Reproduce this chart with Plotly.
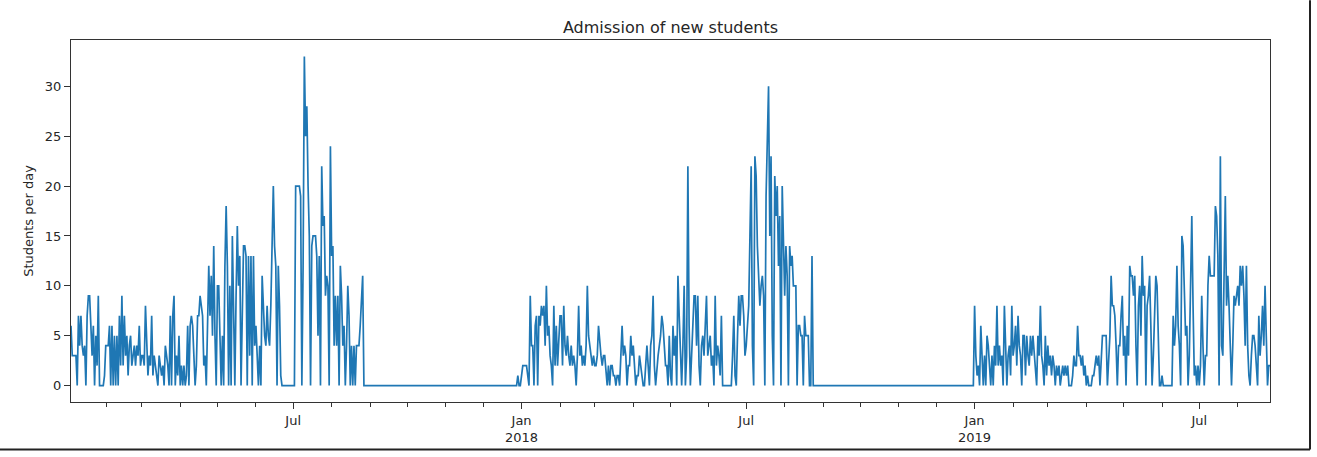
import pandas as pd
import plotly.graph_objects as go

# ---- data (daily admissions; each block starts on its date) ----
start_2017 = "2017-01-03"
values_2017 = [
    6, 3, 3, 3, 3, 0, 7, 4, 7, 4,
    3, 4, 0, 7, 9, 9, 6, 3, 6, 0,
    5, 2, 9, 0, 0, 0, 0, 1, 4, 4,
    4, 6, 0, 6, 0, 5, 0, 5, 0, 7,
    2, 9, 2, 7, 3, 5, 1, 4, 5, 2,
    3, 4, 2, 4, 3, 6, 2, 3, 3, 2,
    8, 3, 1, 3, 2, 7, 1, 3, 2, 1,
    0, 3, 2, 1, 2, 0, 4, 3, 2, 0,
    7, 0, 7, 9, 0, 3, 1, 5, 0, 2,
    0, 2, 0, 1, 6, 0, 6, 7, 6, 3,
    0, 2, 7, 7, 9, 8, 7, 2, 3, 0,
    8, 12, 7, 11, 5, 14, 5, 0, 10, 10,
    5, 0, 5, 0, 12, 18, 12, 0, 10, 0,
    15, 5, 0, 9, 16, 10, 13, 0, 10, 14,
    14, 13, 0, 13, 3, 13, 0, 13, 4, 6,
    3, 0, 4, 0, 11, 8, 5, 4, 8, 5,
    4, 8, 14, 20, 14, 12, 0, 12, 8, 1,
    0, 0, 0, 0, 0, 0, 0, 0, 0, 0,
    0, 20, 20, 20, 20, 19, 0, 12, 33, 25,
    28, 20, 15, 0, 14, 15, 15, 15, 13, 5,
    13, 0, 22, 16, 17, 9, 11, 10, 0, 24,
    13, 14, 4, 9, 4, 9, 0, 12, 9, 4,
    6, 0, 4, 10, 7, 0, 4, 0, 4, 0,
    4, 4, 4, 6, 8, 11, 0,
]

start_2018 = "2017-12-27"
values_2018 = [
    0, 0, 1, 0, 0,
    1, 2, 2, 2, 2, 1, 0, 9, 4, 4,
    0, 6, 7, 0, 7, 6, 8, 7, 8, 4,
    10, 5, 6, 3, 2, 0, 8, 2, 6, 2,
    4, 7, 7, 2, 8, 4, 3, 5, 3, 2,
    4, 2, 3, 2, 0, 3, 8, 3, 4, 2,
    3, 2, 4, 10, 5, 4, 3, 2, 3, 2,
    2, 3, 6, 4, 3, 2, 3, 3, 1, 0,
    2, 0, 2, 2, 1, 1, 0, 1, 1, 0,
    3, 6, 3, 4, 3, 0, 2, 2, 5, 3,
    4, 2, 0, 1, 1, 3, 2, 1, 0, 0,
    2, 4, 2, 0, 4, 5, 9, 2, 0, 2,
    3, 4, 5, 7, 6, 4, 2, 2, 0, 5,
    1, 0, 6, 3, 5, 0, 11, 7, 3, 0,
    4, 10, 0, 3, 22, 6, 0, 3, 5, 9,
    9, 4, 9, 2, 0, 4, 5, 3, 6, 9,
    3, 4, 5, 2, 3, 0, 9, 2, 4, 3,
    1, 7, 0, 0, 0, 0, 0, 0, 0, 0,
    3, 7, 1, 0, 5, 9, 6, 9, 9, 7,
    3, 4, 6, 8, 15, 22, 4, 0, 23, 21,
    14, 10, 8, 10, 11, 9, 0, 19, 25, 30,
    15, 23, 5, 0, 21, 17, 20, 12, 17, 0,
    20, 14, 9, 14, 11, 0, 14, 12, 13, 10,
    10, 10, 0, 6, 6, 5, 5, 0, 7, 5,
    5, 5, 0, 0, 13, 0,
]

start_2019 = "2018-12-31"
values_2019 = [
    0,
    8, 3, 1, 2, 0, 6, 3, 0, 3, 0,
    5, 4, 2, 0, 3, 0, 4, 2, 8, 2,
    4, 2, 3, 0, 8, 3, 0, 3, 4, 1,
    8, 3, 4, 6, 2, 7, 4, 3, 0, 5,
    5, 1, 5, 3, 2, 5, 3, 5, 3, 2,
    0, 5, 3, 8, 3, 2, 0, 5, 1, 4,
    2, 3, 1, 3, 2, 0, 2, 1, 2, 0,
    1, 2, 1, 2, 1, 2, 0, 0, 0, 1,
    3, 2, 2, 6, 3, 3, 2, 3, 1, 2,
    0, 1, 0, 0, 0, 1, 1, 2, 3, 2,
    3, 0, 3, 5, 5, 5, 5, 0, 2, 5,
    11, 8, 8, 7, 4, 0, 4, 4, 7, 9,
    3, 5, 0, 6, 3, 12, 11, 11, 9, 11,
    4, 0, 8, 10, 5, 13, 9, 10, 0, 8,
    9, 11, 6, 0, 3, 8, 11, 10, 4, 0,
    0, 1, 0, 0, 0, 0, 0, 0, 0, 0,
    7, 4, 6, 12, 6, 4, 0, 15, 14, 9,
    5, 6, 0, 3, 13, 17, 8, 1, 2, 0,
    2, 0, 2, 9, 4, 0, 3, 3, 10, 13,
    11, 11, 11, 11, 18, 17, 13, 0, 23, 4,
    3, 13, 19, 8, 11, 8, 4, 0, 4, 9,
    8, 9, 10, 8, 12, 10, 12, 9, 4, 12,
    4, 1, 0, 3, 5, 5, 4, 2, 0, 7,
    3, 5, 8, 4, 10, 5, 0, 2, 2,
]

major_tick_dates = ["2017-07-01", "2018-01-01", "2018-07-01", "2019-01-01", "2019-07-01"]
major_tick_labels = ["Jul", "Jan<br>2018", "Jul", "Jan<br>2019", "Jul"]
y_tick_values = [0, 5, 10, 15, 20, 25, 30]

# ---- assemble the daily series ----
segments = [(start_2017, values_2017), (start_2018, values_2018), (start_2019, values_2019)]
dates, values = [], []
for seg_start, seg_values in segments:
    dates.extend(pd.date_range(seg_start, periods=len(seg_values), freq="D"))
    values.extend(seg_values)

ymax = max(values)
pad = 0.05 * ymax

W, H = 1317, 457
L, R, T, B = 71, 1270, 40, 405
TXT = "#262626"

fig = go.Figure(
    go.Scatter(x=dates, y=values, mode="lines",
               line=dict(color="#1f77b4", width=1.7), hoverinfo="x+y")
)

fig.update_layout(
    width=W, height=H,
    margin=dict(l=L, r=W - R, t=T, b=H - B, pad=0),
    paper_bgcolor="white", plot_bgcolor="white",
    font=dict(family="DejaVu Sans", size=13, color=TXT),
    showlegend=False,
    title=dict(text="Admission of new students", x=0.5, xref="paper", xanchor="center",
               y=1 - 27 / H, yref="container", yanchor="middle",
               font=dict(size=16, color=TXT)),
)

fig.update_xaxes(
    type="date",
    range=[dates[0], dates[-1]],
    tickmode="array", tickvals=major_tick_dates, ticktext=major_tick_labels,
    ticks="outside", ticklen=6, tickwidth=1, tickcolor="#333",
    showline=True, linecolor="#333", linewidth=1, mirror=True,
    showgrid=False, zeroline=False,
    tickfont=dict(size=13, color=TXT),
    minor=dict(ticks="outside", ticklen=3.5, tickwidth=1, tickcolor="#333",
               dtick="M1", tick0="2017-01-01", showgrid=False),
)

fig.update_yaxes(
    range=[-pad, ymax + pad],
    tickmode="array", tickvals=y_tick_values,
    ticks="outside", ticklen=6, tickwidth=1, tickcolor="#333",
    showline=True, linecolor="#333", linewidth=1, mirror=True,
    showgrid=False, zeroline=False,
    tickfont=dict(size=13, color=TXT),
    title=dict(text="Students per day", font=dict(size=13, color=TXT), standoff=8),
)

# outer screenshot frame (right and bottom edges)
pw, ph = R - L, B - T
fx = (1310 - L) / pw
fy = (B - 453) / ph
fig.add_shape(type="line", xref="paper", yref="paper",
              x0=-L / pw, x1=fx, y0=fy, y1=fy, line=dict(color="#222", width=2))
fig.add_shape(type="line", xref="paper", yref="paper",
              x0=fx, x1=fx, y0=fy, y1=(B - 0) / ph, line=dict(color="#222", width=2))

fig.write_html("out.html")
